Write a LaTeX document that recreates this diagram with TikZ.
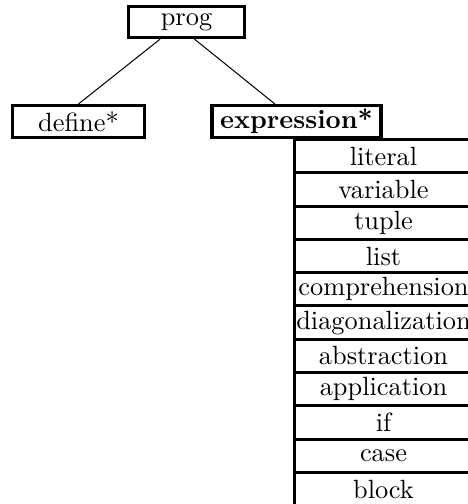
\documentclass[tikz,border=0pt]{standalone}
\usepackage{amsmath}
\usepackage{tikz}
\usetikzlibrary{matrix}

\begin{document}
\begin{tikzpicture}[x=0.3906pt, y=-0.3906pt, font=\fontsize{10.3}{12}\selectfont,
    box/.style={draw, line width=1.2pt, inner sep=0pt, anchor=center}]
    \useasboundingbox (0,0) rectangle (467,504);
    \node[box, minimum width=45.5pt, minimum height=12.2pt] (prog) at (186.5,22) {prog};
    \node[box, minimum width=51.6pt, minimum height=12.5pt] (define) at (78.5,121.5) {define*};
    \node[box, minimum width=66pt, minimum height=12.5pt] (expr) at (296.5,121.5) {\textbf{expression*}};
    \matrix[matrix of nodes, anchor=north west, inner sep=0pt, outer sep=0pt,
      nodes={box, minimum width=69.5pt, minimum height=13pt},
      row sep=-1.2pt] (alts) at (293,138) {
      literal \\
      variable \\
      tuple \\
      list \\
      comprehension \\
      diagonalization \\
      abstraction \\
      application \\
      if \\
      case \\
      block \\
    };
    \draw (prog.213) -- (define.north);
    \draw (prog.295) -- (expr.141);
    \end{tikzpicture}
\end{document}
